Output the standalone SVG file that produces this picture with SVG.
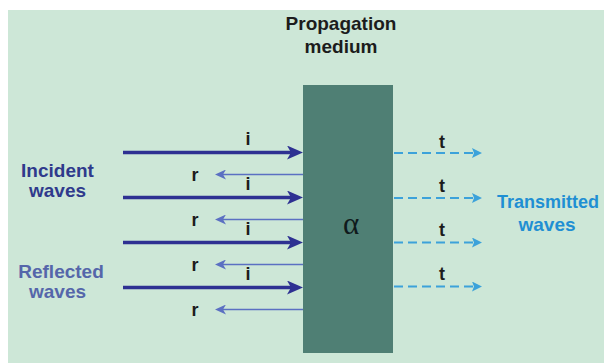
<svg xmlns="http://www.w3.org/2000/svg" width="604" height="363" viewBox="0 0 604 363">
  <defs>
    <style>
      .lbl { font-family: "Liberation Sans", Arial, sans-serif; font-weight: bold; font-size: 19px; }
      .sm { font-family: "Liberation Sans", Arial, sans-serif; font-weight: bold; font-size: 18px; fill: #1c1c1c; text-anchor: middle; }
      .inc { stroke: #2e3192; stroke-width: 3.3; fill: none; }
      .ref { stroke: #5b70c2; stroke-width: 1.6; fill: none; }
      .tr { stroke: #3ca2da; stroke-width: 2; stroke-dasharray: 9 5; fill: none; }
    </style>
    <marker id="mInc" markerUnits="userSpaceOnUse" markerWidth="16" markerHeight="14" refX="4" refY="7" orient="auto">
      <path d="M0,0 L16,7 L0,14 L4,7 z" fill="#2e3192"/>
    </marker>
    <marker id="mRef" markerUnits="userSpaceOnUse" markerWidth="11" markerHeight="10" refX="3" refY="5" orient="auto">
      <path d="M0,0 L11,5 L0,10 L3,5 z" fill="#5b70c2"/>
    </marker>
    <marker id="mTr" markerUnits="userSpaceOnUse" markerWidth="10" markerHeight="10" refX="2" refY="5" orient="auto">
      <path d="M0,0 L10,5 L0,10 L2,5 z" fill="#3ca2da"/>
    </marker>
  </defs>

  <rect x="0" y="0" width="604" height="363" fill="#ffffff"/>
  <rect x="8" y="10" width="596" height="353" fill="#cde7d7"/>

  <g id="medium">
    <rect x="303" y="85" width="90" height="268" fill="#4f7f74"/>
    <text x="351" y="234" font-family="Liberation Serif, serif" font-size="31" fill="#101a1c" text-anchor="middle">α</text>
  </g>

  <g id="medium-label">
    <text class="lbl" x="341" y="30" fill="#1c1c1c" text-anchor="middle">Propagation</text>
    <text class="lbl" x="341" y="53" fill="#1c1c1c" text-anchor="middle">medium</text>
  </g>

  <g id="incident-label">
    <text class="lbl" x="57.5" y="177" fill="#2f3a8c" text-anchor="middle">Incident</text>
    <text class="lbl" x="57.5" y="197" fill="#2f3a8c" text-anchor="middle">waves</text>
  </g>

  <g id="reflected-label">
    <text class="lbl" x="61" y="278" fill="#5566aa" text-anchor="middle">Reflected</text>
    <text class="lbl" x="57.5" y="298" fill="#5566aa" text-anchor="middle">waves</text>
  </g>

  <g id="transmitted-label">
    <text class="lbl" x="497" y="208" fill="#1f8fd3" font-size="18" style="font-size:18px">Transmitted</text>
    <text class="lbl" x="547" y="231" fill="#1f8fd3" text-anchor="middle">waves</text>
  </g>

  <g id="connectors">
    <line class="inc" x1="123" y1="152.5" x2="291" y2="152.5" marker-end="url(#mInc)"/>
    <line class="inc" x1="123" y1="197.5" x2="291" y2="197.5" marker-end="url(#mInc)"/>
    <line class="inc" x1="123" y1="242.5" x2="291" y2="242.5" marker-end="url(#mInc)"/>
    <line class="inc" x1="123" y1="287.5" x2="291" y2="287.5" marker-end="url(#mInc)"/>

    <line class="ref" x1="303" y1="174.5" x2="223" y2="174.5" marker-end="url(#mRef)"/>
    <line class="ref" x1="303" y1="219.5" x2="223" y2="219.5" marker-end="url(#mRef)"/>
    <line class="ref" x1="303" y1="264.5" x2="223" y2="264.5" marker-end="url(#mRef)"/>
    <line class="ref" x1="303" y1="309.5" x2="223" y2="309.5" marker-end="url(#mRef)"/>

    <line class="tr" x1="394" y1="153" x2="474" y2="153" marker-end="url(#mTr)"/>
    <line class="tr" x1="394" y1="198" x2="474" y2="198" marker-end="url(#mTr)"/>
    <line class="tr" x1="394" y1="242.5" x2="474" y2="242.5" marker-end="url(#mTr)"/>
    <line class="tr" x1="394" y1="286.5" x2="474" y2="286.5" marker-end="url(#mTr)"/>

    <text class="sm" x="248" y="145">i</text>
    <text class="sm" x="248" y="190">i</text>
    <text class="sm" x="248" y="235">i</text>
    <text class="sm" x="248" y="280">i</text>

    <text class="sm" x="195" y="181">r</text>
    <text class="sm" x="195" y="226">r</text>
    <text class="sm" x="195" y="271">r</text>
    <text class="sm" x="195" y="316">r</text>

    <text class="sm" x="442" y="148">t</text>
    <text class="sm" x="442" y="192">t</text>
    <text class="sm" x="442" y="236">t</text>
    <text class="sm" x="442" y="280">t</text>
  </g>
</svg>
